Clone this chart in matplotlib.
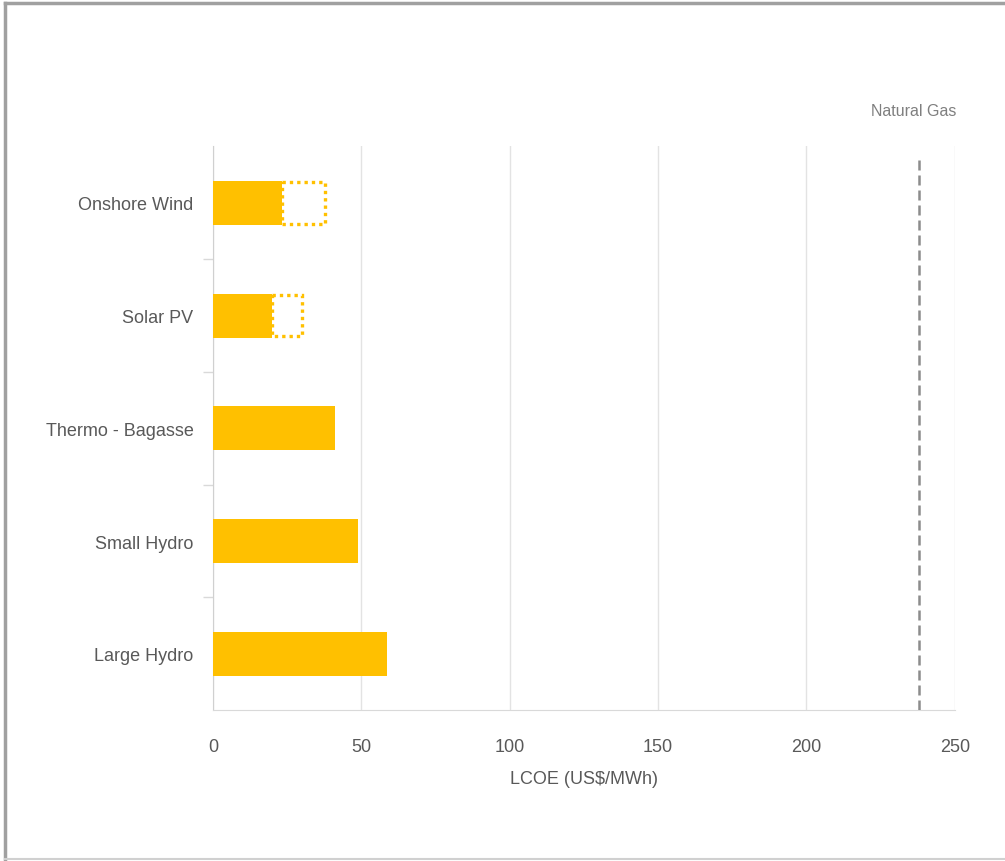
import matplotlib
matplotlib.use("Agg")
import matplotlib.pyplot as plt
from matplotlib.lines import Line2D

# data
categories = ["Onshore Wind", "Solar PV", "Thermo - Bagasse", "Small Hydro", "Large Hydro"]
lcoe_low = [23.2, 20.0, 41.0, 49.0, 58.6]
lcoe_high = [37.7, 30.0, None, None, None]
gas_lcoe = 238
x_ticks = [0, 50, 100, 150, 200, 250]

gold = "#FFC000"
text_grey = "#595959"
plt.rcParams["font.family"] = ["Liberation Sans Narrow", "Liberation Sans", "DejaVu Sans"]

fig = plt.figure(figsize=(10.05, 8.62), dpi=100)
ax = fig.add_axes([0.212, 0.175, 0.738, 0.654])

ypos = list(range(len(categories)))
ax.barh(ypos, lcoe_low, height=0.39, color=gold, zorder=3)
for y, lo, hi in zip(ypos, lcoe_low, lcoe_high):
    if hi is None:
        continue
    ax.barh(y, hi - lo, left=lo, height=0.37, color="white", edgecolor=gold,
            linewidth=2.4, linestyle=(0, (1, 1.2)), zorder=3)

ax.axvline(gas_lcoe, ymin=0, ymax=0.98, color="#8c8c8c", linestyle=(0, (4, 2)),
           linewidth=1.8, zorder=4)
ax.text(gas_lcoe - 2, -0.82, "Natural Gas", ha="center", va="center",
        fontsize=11.5, color="#7f7f7f")

ax.set_xlim(0, 250)
ax.set_ylim(4.5, -0.5)
ax.set_xticks(x_ticks)
ax.set_xticklabels([str(t) for t in x_ticks])
ax.set_yticks(ypos)
ax.set_yticklabels(categories)
ax.set_yticks([i + 0.5 for i in range(len(categories) - 1)], minor=True)
ax.tick_params(axis="y", which="major", length=0, pad=14, labelsize=13, labelcolor=text_grey)
ax.tick_params(axis="y", which="minor", length=7, color="#d9d9d9", width=1)
ax.tick_params(axis="x", length=0, pad=20, labelsize=13, labelcolor=text_grey)

ax.grid(axis="x", color="#e3e3e3", linewidth=1, zorder=0)
for side in ["top", "right"]:
    ax.spines[side].set_visible(False)
ax.spines["left"].set_color("#d0d0d0")
ax.spines["bottom"].set_color("#d9d9d9")

ax.set_xlabel("LCOE (US$/MWh)", fontsize=13, color=text_grey, labelpad=11)

# outer frame of the exported chart area (no right edge in the reference)
fig.add_artist(Line2D([0.005, 1.0], [0.995, 0.995], transform=fig.transFigure,
                      color="#a0a0a0", linewidth=2.5))
fig.add_artist(Line2D([0.005, 0.005], [0.0, 0.995], transform=fig.transFigure,
                      color="#a0a0a0", linewidth=2.5))
fig.add_artist(Line2D([0.005, 1.0], [0.002, 0.002], transform=fig.transFigure,
                      color="#d0d0d0", linewidth=1.5))

fig.savefig("out.png", dpi=100)
